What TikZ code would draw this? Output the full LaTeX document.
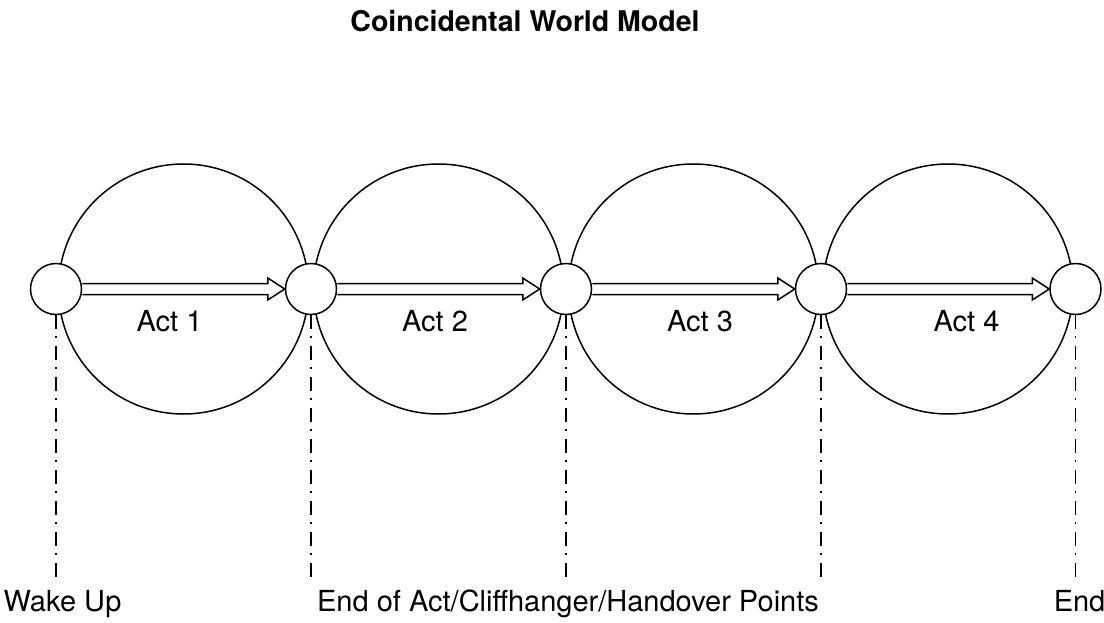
\documentclass[tikz,border=0pt]{standalone}
\usepackage{fontspec}
\setmainfont{TeX Gyre Heros}
\usetikzlibrary{calc}
\newcommand\flexarr[2]{%
  \draw[line join=miter]
    ($(#1.east)+(0,-5.5)$) -- ($(#2.west)+(-17,-5.5)$) -- ($(#2.west)+(-17,-11)$)
    -- (#2.west) -- ($(#2.west)+(-17,11)$) -- ($(#2.west)+(-17,5.5)$)
    -- ($(#1.east)+(0,5.5)$);}
\begin{document}
\begin{tikzpicture}[x=1pt,y=-1pt,line width=1.5pt,
  big/.style={circle,draw,minimum size=250pt,inner sep=0pt},
  small/.style={circle,draw,fill=white,minimum size=51pt,inner sep=0pt},
  dd/.style={line width=1.3pt,dash pattern=on 14pt off 7pt on 2pt off 8pt},
  lbl/.style={font=\fontsize{29}{34}\selectfont,inner sep=0pt,anchor=base},
  ttl/.style={font=\fontsize{28.5}{34}\selectfont\bfseries,inner sep=0pt,anchor=base}]
\useasboundingbox (0,0) rectangle (1104,623);
\fill[white] (0,0) rectangle (1104,623);
\node[ttl] (title) at (525,32) {Coincidental World Model};
% big circles
\node[big] (b1) at (183.5,289) {};
\node[big] (b2) at (438.5,289) {};
\node[big] (b3) at (693.5,289) {};
\node[big] (b4) at (948,289) {};
% small circles
\node[small] (s1) at (56,289) {};
\node[small] (s2) at (311,289) {};
\node[small] (s3) at (566,289) {};
\node[small] (s4) at (821,289) {};
\node[small] (s5) at (1075.5,289) {};
% arrows
\flexarr{s1}{s2}
\flexarr{s2}{s3}
\flexarr{s3}{s4}
\flexarr{s4}{s5}
% act labels
\node[lbl] (a1) at (169.5,331) {Act 1};
\node[lbl] (a2) at (435,331) {Act 2};
\node[lbl] (a3) at (700,331) {Act 3};
\node[lbl] (a4) at (966.5,331) {Act 4};
% dash-dot lines
\coordinate (e1) at (56,580);
\coordinate (e2) at (311,580);
\coordinate (e3) at (566,580);
\coordinate (e4) at (821,580);
\coordinate (e5) at (1075.5,580);
\foreach \i in {1,...,5} \draw[dd] (s\i.south) -- (e\i);
% bottom labels
\node[lbl,anchor=base west] (w) at (3,611) {Wake Up};
\node[lbl] (m) at (568,611) {End of Act/Cliffhanger/Handover Points};
\node[lbl,anchor=base west] (en) at (1053,611) {End};
\end{tikzpicture}
\end{document}
